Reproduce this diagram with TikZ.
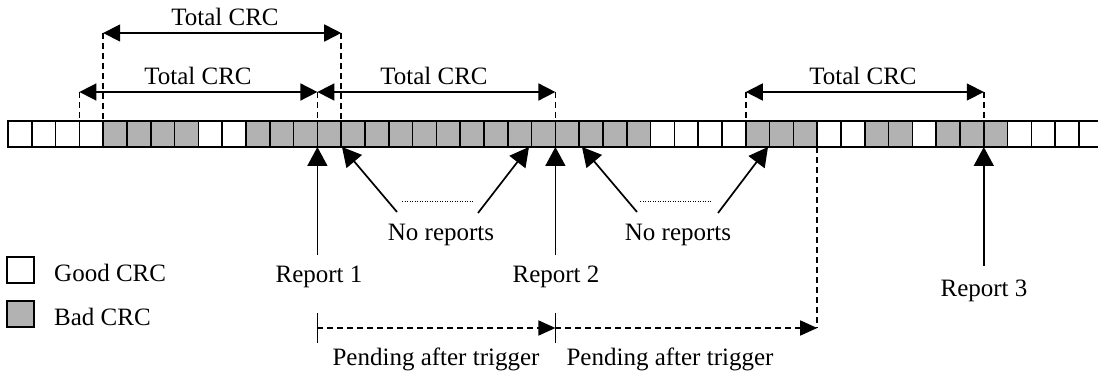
\documentclass[tikz,border=0pt]{standalone}
\usepackage{fontspec}
\setmainfont{Liberation Serif}
\usetikzlibrary{arrows.meta}
\begin{document}
\begin{tikzpicture}[x=1pt,y=-1pt,
  cell/.style={draw=black,line width=1.7pt,minimum width=23.8pt,minimum height=26pt,inner sep=0pt,outer sep=0pt,anchor=north west},
  good/.style={cell,fill=white},
  bad/.style={cell,fill=black!30},
  lbl/.style={font=\fontsize{25}{29}\selectfont,inner sep=0pt,anchor=base},
  dim/.style={line width=1.7pt,{Triangle[length=17pt,width=17pt]}-{Triangle[length=17pt,width=17pt]}},
  guide/.style={line width=1.6pt,dash pattern=on 6pt off 4pt},
  rep/.style={line width=1.7pt,-{Triangle[length=19pt,width=20pt]}},
  pend/.style={line width=1.6pt,dash pattern=on 6pt off 4pt,-{Triangle[length=17pt,width=15pt]}},
  tick/.style={line width=1.7pt},
  dots/.style={line width=0.8pt,dash pattern=on 1pt off 1.5pt}
]
\useasboundingbox (0,0) rectangle (1098,374);
\fill[white] (0,0) rectangle (1098,374);
% cells
\foreach \i in {0,1,2,3,8,9,27,28,29,30,34,35,38,42,43,44,45}
  \node[good] (c\i) at ({8+23.8*\i},121) {};
\foreach \i in {4,5,6,7,10,11,12,13,14,15,16,17,18,19,20,21,22,23,24,25,26,31,32,33,36,37,39,40,41}
  \node[bad] (c\i) at ({8+23.8*\i},121) {};
% Total CRC dimension lines
\node[lbl] (t1) at (225,26) {Total CRC};
\node[lbl] (t2) at (198,85) {Total CRC};
\node[lbl] (t3) at (434,85) {Total CRC};
\node[lbl] (t4) at (863,85) {Total CRC};
\coordinate (a1l) at (c4.north west |- 0,33);
\coordinate (a1r) at (c14.north west |- 0,33);
\coordinate (a2l) at (c3.north west |- 0,92);
\coordinate (a2r) at (c13.north west |- 0,92);
\coordinate (a3r) at (c23.north west |- 0,92);
\coordinate (a4l) at (c31.north west |- 0,92);
\coordinate (a4r) at (c41.north west |- 0,92);
\draw[guide] (a1l) -- (c4.north west);
\draw[guide] (a1r) -- (c14.north west);
\draw[guide] (a2l) -- (c3.north west);
\draw[guide] (a2r) -- (c13.north west);
\draw[guide] (a3r) -- (c23.north west);
\draw[guide] (a4l) -- (c31.north west);
\draw[guide] (a4r) -- (c41.north west);
\draw[dim] (a1l) -- (a1r);
\draw[dim] (a2l) -- (a2r);
\draw[dim] (a2r) -- (a3r);
\draw[dim] (a4l) -- (a4r);
% Reports
\node[lbl] (r1) at (319,283) {Report 1};
\node[lbl] (r2) at (556,283) {Report 2};
\node[lbl] (r3) at (984,296) {Report 3};
\coordinate (r1s) at (c13.south west |- 0,255);
\coordinate (r2s) at (c23.south west |- 0,255);
\coordinate (r3s) at (c41.south west |- 0,266);
\draw[rep] (r1s) -- (c13.south west);
\draw[rep] (r2s) -- (c23.south west);
\draw[rep] (r3s) -- (c41.south west);
% No reports
\node[lbl] (n1) at (441,241) {No reports};
\node[lbl] (n2) at (678,241) {No reports};
\coordinate (n1a) at (397,212);
\coordinate (n1b) at (478,213);
\coordinate (n2a) at (637,212);
\coordinate (n2b) at (718,213);
\coordinate (n1at) at (342,147);
\coordinate (n1bt) at (529,147);
\coordinate (n2at) at (582,147);
\coordinate (n2bt) at (768,147);
\draw[rep] (n1a) -- (n1at);
\draw[rep] (n1b) -- (n1bt);
\draw[rep] (n2a) -- (n2at);
\draw[rep] (n2b) -- (n2bt);
\coordinate (d1a) at (402,201);
\coordinate (d1b) at (473,201);
\coordinate (d2a) at (640,201);
\coordinate (d2b) at (712,201);
\draw[dots] (d1a) -- (d1b);
\draw[dots] (d2a) -- (d2b);
% Legend
\node[good,minimum width=27pt] (lg1) at (7,257) {};
\node[bad,minimum width=27pt] (lg2) at (7,301) {};
\node[lbl,anchor=base west] (lt1) at (54,281) {Good CRC};
\node[lbl,anchor=base west] (lt2) at (54,325) {Bad CRC};
% Pending
\coordinate (p1) at (c13.south west |- 0,328);
\coordinate (p2) at (c23.south west |- 0,328);
\coordinate (p3) at (c33.south east |- 0,328);
\draw[tick] ([yshift=15pt]p1) -- ([yshift=-15pt]p1);
\draw[tick] ([yshift=15pt]p2) -- ([yshift=-15pt]p2);
\draw[guide] (c33.south east) -- (p3);
\draw[pend] (p1) -- (p2);
\draw[pend] (p2) -- (p3);
\node[lbl] (pt1) at (436,365) {Pending after trigger};
\node[lbl] (pt2) at (670,365) {Pending after trigger};
\end{tikzpicture}
\end{document}
